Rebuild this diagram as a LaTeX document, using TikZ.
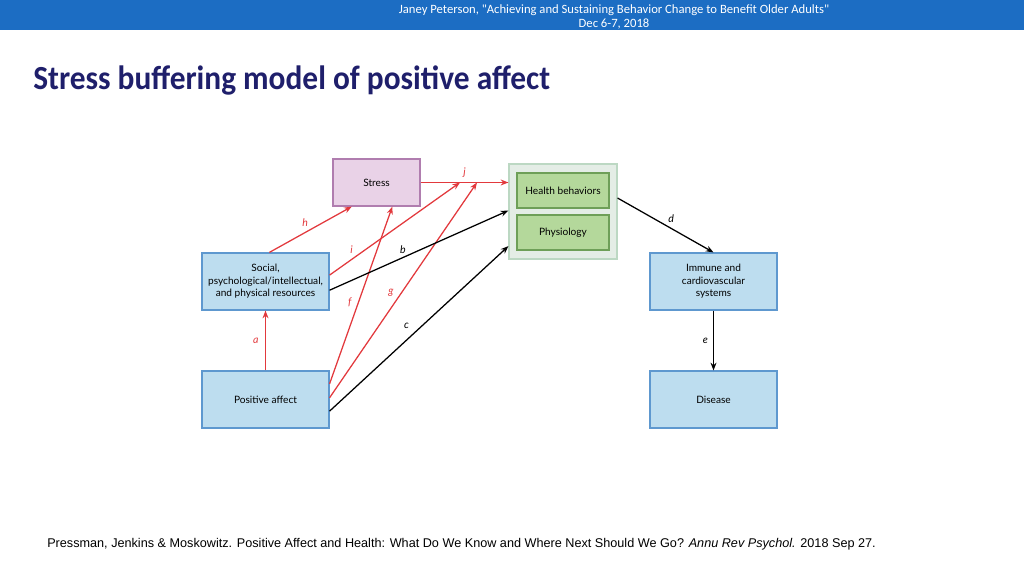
\documentclass[tikz,border=0pt]{standalone}
\usepackage{fontspec}
\setmainfont{Lato}
\newfontfamily\headfont{Carlito}
\newfontfamily\titlefont[FakeStretch=0.93]{Carlito}
\newfontfamily\citefont{Liberation Sans}
\usetikzlibrary{positioning}
\usetikzlibrary{arrows.meta}
\usetikzlibrary{calc}

\definecolor{barblue}{HTML}{1C6DC3}
\definecolor{titlenavy}{HTML}{1F1F6B}
\definecolor{arrred}{HTML}{E2393D}
\definecolor{boxblue}{HTML}{BDDDEF}
\definecolor{boxblueline}{HTML}{5E98CF}
\definecolor{boxpink}{HTML}{E9D2E7}
\definecolor{boxpinkline}{HTML}{B07DAF}
\definecolor{boxgreen}{HTML}{B4D89B}
\definecolor{boxgreenline}{HTML}{6E9F58}
\definecolor{grpfill}{HTML}{E4EDE6}
\definecolor{grpline}{HTML}{BCD8C3}

\tikzset{
  bluebox/.style={draw=boxblueline, fill=boxblue, line width=0.8pt, align=center,
    minimum width=3.175cm, minimum height=1.425cm, font=\fontsize{7.2}{8.8}\selectfont},
  stressbox/.style={bluebox, draw=boxpinkline, fill=boxpink, minimum width=2.175cm, minimum height=1.175cm},
  greenbox/.style={bluebox, draw=boxgreenline, fill=boxgreen, minimum width=2.3cm, minimum height=0.875cm},
  groupbox/.style={draw=grpline, fill=grpfill, line width=0.8pt, minimum width=2.7cm, minimum height=2.375cm},
  redarr/.style={draw=arrred, line width=0.9pt, -{Stealth[length=5.5pt, width=4.2pt]}},
  blackarr/.style={draw=black, line width=0.9pt, -{Stealth[length=5.5pt, width=4.2pt]}},
  lbl/.style={font=\fontsize{7.5}{8}\selectfont\itshape, inner sep=1.5pt},
  redlbl/.style={lbl, text=arrred}
}

\begin{document}
\begin{tikzpicture}[x=0.025cm, y=-0.025cm]
  \useasboundingbox (0,0) rectangle (1024,576);

  % header bar and title
  \fill[barblue] (0,0) rectangle (1024,30);
  \node[text=white, align=center, font=\headfont\fontsize{9}{9.8}\selectfont] (header) at (614,17)
    {Janey Peterson, "Achieving and Sustaining Behavior Change to Benefit Older Adults"\\Dec 6-7, 2018};
  \node[anchor=base west, inner sep=0pt, text=titlenavy, font=\titlefont\bfseries\fontsize{24}{28}\selectfont] (title) at (33,90)
    {Stress buffering model of positive affect};

  % boxes
  \node[stressbox] (stress) at (376.5,182.5) {Stress};
  \node[groupbox] (grp) at (563,211.5) {};
  \node[greenbox] (health) at (563,190.5) {Health behaviors};
  \node[greenbox] (physio) at (563,232.5) {Physiology};
  \node[bluebox] (social) at (265.5,281.5) {Social,\\psychological/intellectual,\\and physical resources};
  \node[bluebox] (posaff) at (265.5,399.5) {Positive affect};
  \node[bluebox] (immune) at (713.5,281.5) {Immune and\\cardiovascular\\systems};
  \node[bluebox] (disease) at (713.5,399.5) {Disease};

  % free ends on the j line
  \coordinate (ji) at (460,182.5);
  \coordinate (jg) at (477,182.5);

  % red paths
  \draw[redarr] (posaff.north) -- node[redlbl, left=3pt] {a} (social.south);
  \draw[redarr] ($(social.north west)!0.53!(social.north east)$) -- node[redlbl, above left] {h}
    ($(stress.south west)!0.22!(stress.south east)$);
  \draw[redarr] ($(social.north east)!0.39!(social.south east)$) -- node[redlbl, pos=0.2, above left] {i} (ji);
  \draw[redarr] ($(posaff.north east)!0.23!(posaff.south east)$) -- node[redlbl, pos=0.46, left=3pt] {f}
    ($(stress.south west)!0.68!(stress.south east)$);
  \draw[redarr] ($(posaff.north east)!0.47!(posaff.south east)$) -- node[redlbl, pos=0.49, left=4pt] {g} (jg);
  \draw[redarr] (stress.east) -- node[redlbl, above=2pt] {j} (stress.east -| grp.west);

  % black paths
  \draw[blackarr] ($(social.north east)!0.65!(social.south east)$) -- node[lbl, pos=0.41, above=1pt] {b}
    ($(grp.north west)!0.49!(grp.south west)$);
  \draw[blackarr] ($(posaff.north east)!0.70!(posaff.south east)$) -- node[lbl, pos=0.47, above left=2pt] {c}
    ($(grp.north west)!0.86!(grp.south west)$);
  \draw[blackarr] ($(grp.north east)!0.36!(grp.south east)$) -- node[lbl, pos=0.5, above right] {d} (immune.north);
  \draw[blackarr] (immune.south) -- node[lbl, left=2pt] {e} (disease.north);

  % source
  \node[anchor=base west, inner sep=0pt, font=\citefont\fontsize{9}{11}\selectfont] (source) at (47,547)
    {Pressman, Jenkins \& Moskowitz. Positive Affect and Health: What Do We Know and Where Next Should We Go? \textit{Annu Rev Psychol.} 2018 Sep 27.};
\end{tikzpicture}
\end{document}
